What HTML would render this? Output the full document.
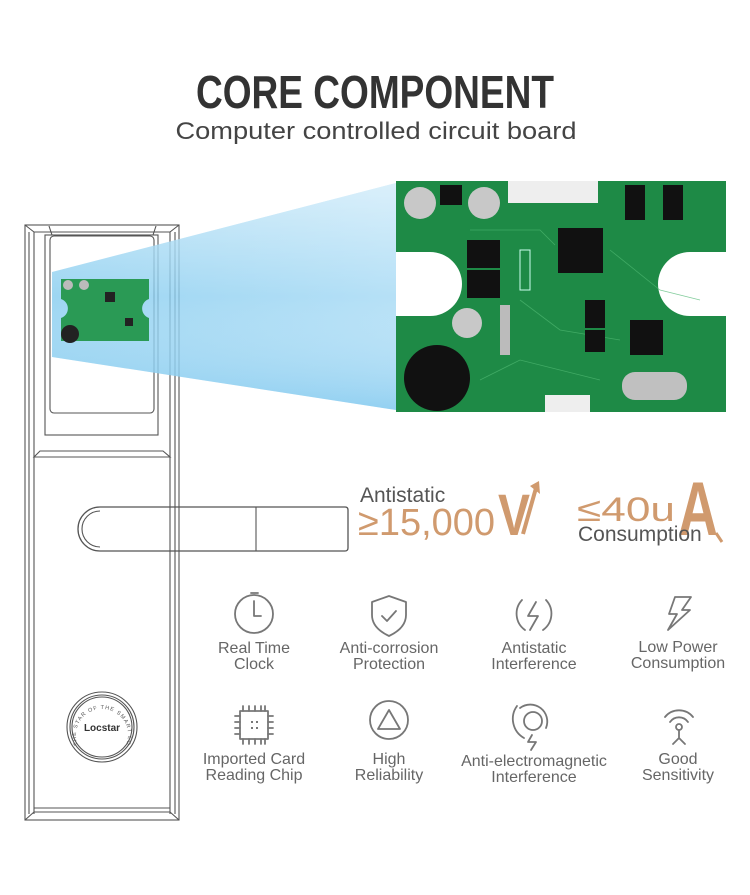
<!DOCTYPE html>
<html><head><meta charset="utf-8"><style>
html,body{margin:0;padding:0;background:#fff;}
svg{display:block;}
text{font-family:"Liberation Sans",sans-serif;}
</style></head><body>
<svg width="750" height="895" viewBox="0 0 750 895" xmlns="http://www.w3.org/2000/svg">
<defs>
<linearGradient id="beam" x1="0" y1="0" x2="1" y2="0">
<stop offset="0" stop-color="#7cc8ee" stop-opacity="0.75"/>
<stop offset="1" stop-color="#a9dbf5" stop-opacity="0.85"/>
</linearGradient>
<linearGradient id="beam2" x1="0" y1="0" x2="0" y2="1">
<stop offset="0" stop-color="#ffffff" stop-opacity="0.5"/>
<stop offset="0.5" stop-color="#ffffff" stop-opacity="0"/>
<stop offset="1" stop-color="#5fb9ea" stop-opacity="0.4"/>
</linearGradient>
</defs>

<text x="375" y="108" text-anchor="middle" font-size="46" font-weight="bold" fill="#333" textLength="358" lengthAdjust="spacingAndGlyphs">CORE COMPONENT</text>
<text x="376" y="139" text-anchor="middle" font-size="24" fill="#444" textLength="401" lengthAdjust="spacingAndGlyphs">Computer controlled circuit board</text>

<g fill="none" stroke="#555" stroke-width="1.1">
<rect x="25" y="225" width="154" height="595"/>
<line x1="29" y1="232" x2="29" y2="814"/>
<line x1="34" y1="232" x2="34" y2="814"/>
<line x1="175" y1="232" x2="175" y2="814"/>
<line x1="170" y1="232" x2="170" y2="814"/>
<path d="M25 225 L34 232 L170 232 L179 225"/>
<path d="M49 226 L52 235 L153 235 L156 226"/>
<rect x="45" y="235" width="113" height="200"/>
<rect x="50" y="236" width="104" height="177" rx="4"/>
<path d="M34 457 L40 451 L163 451 L170 457 Z"/>
<path d="M25 820 L34 812 L170 812 L179 820"/>
<line x1="34" y1="808" x2="170" y2="808"/>
<path d="M100 507 L345 507 Q348 507 348 510 L348 548 Q348 551 345 551 L100 551 A22 22 0 0 1 100 507 Z" stroke-width="1.3"/>
<path d="M100 511 A18 18 0 0 0 100 547" />
<line x1="256" y1="507" x2="256" y2="551"/>
<circle cx="102" cy="727" r="35"/>
<circle cx="102" cy="727" r="32"/>
<circle cx="102" cy="727" r="30"/>
</g>
<text x="102" y="731" text-anchor="middle" font-size="10" font-weight="bold" fill="#333">Locstar</text>
<path id="arc" d="M78 745 A26 26 0 1 1 126 745" fill="none"/>
<text font-size="5.5" fill="#555" letter-spacing="1"><textPath href="#arc">THE STAR OF THE SMART LOCK</textPath></text>

<polygon points="52,272 396,183 396,410 52,357" fill="url(#beam)"/>
<polygon points="52,272 396,183 396,410 52,357" fill="url(#beam2)"/>

<g>
<path d="M61 279 H149 V299 A10 10 0 0 0 149 318 V341 H61 V318 A10 10 0 0 0 61 299 Z" fill="#2a9a55"/>
<circle cx="70" cy="334" r="9" fill="#222"/>
<rect x="105" y="292" width="10" height="10" fill="#222"/>
<rect x="125" y="318" width="8" height="8" fill="#222"/>
<circle cx="68" cy="285" r="5" fill="#bbb"/><circle cx="84" cy="285" r="5" fill="#bbb"/>
</g>

<g>
<path d="M396 181 H726 V252 H690 A32 32 0 0 0 690 316 H726 V412 H396 V316 H430 A32 32 0 0 0 430 252 H396 Z" fill="#1e8a46"/>
<g stroke="#4fb872" stroke-width="0.8" fill="none" opacity="0.7">
<path d="M470 230 L540 230 L555 245"/><path d="M610 250 L660 290 L700 300"/><path d="M520 300 L560 330 L620 340"/><path d="M480 380 L520 360 L600 380"/>
</g>
<g fill="#111">
<rect x="558" y="228" width="45" height="45"/>
<rect x="467" y="240" width="33" height="28"/>
<rect x="467" y="270" width="33" height="28"/>
<rect x="630" y="320" width="33" height="35"/>
<rect x="585" y="300" width="20" height="28"/>
<rect x="585" y="330" width="20" height="22"/>
<rect x="625" y="185" width="20" height="35"/>
<rect x="663" y="185" width="20" height="35"/>
<rect x="440" y="185" width="22" height="20"/>
<circle cx="437" cy="378" r="33"/>
</g>
<circle cx="420" cy="203" r="16" fill="#c8c8c8"/>
<circle cx="484" cy="203" r="16" fill="#c8c8c8"/>
<circle cx="467" cy="323" r="15" fill="#c8c8c8"/>
<rect x="508" y="181" width="90" height="22" fill="#eee"/>
<rect x="545" y="395" width="45" height="17" fill="#eee"/>
<rect x="622" y="372" width="65" height="28" rx="13" fill="#c0c0c0"/>
<rect x="500" y="305" width="10" height="50" fill="#bbb"/>
<rect x="520" y="250" width="10" height="40" fill="none" stroke="#cfe" stroke-width="1"/>
</g>

<text x="360" y="502" font-size="21" fill="#555">Antistatic</text>
<text x="358" y="535" font-size="38" fill="#d09a6e" textLength="137" lengthAdjust="spacingAndGlyphs">≥15,000</text>
<text x="498" y="535" font-size="58" font-weight="bold" fill="#d09a6e" textLength="32" lengthAdjust="spacingAndGlyphs">V</text>
<path d="M523 534 L536 488" stroke="#d09a6e" stroke-width="4" fill="none"/>
<path d="M530 486 L539 481 L540 494 Z" fill="#d09a6e"/>
<text x="577" y="521" font-size="34" fill="#d09a6e" textLength="98" lengthAdjust="spacingAndGlyphs">≤40u</text>
<text x="678" y="535" font-size="76" font-weight="bold" fill="#d09a6e" textLength="40" lengthAdjust="spacingAndGlyphs">A</text>
<text x="578" y="541" font-size="21" fill="#555">Consumption</text>
<path d="M716 533 L722 542" stroke="#d09a6e" stroke-width="3" fill="none"/>

<g fill="none" stroke="#777" stroke-width="1.8" stroke-linecap="round" stroke-linejoin="round">
<circle cx="254" cy="614" r="19"/><path d="M254 601 V616 H261"/><line x1="251" y1="593" x2="258" y2="593"/>
<path d="M389 596 L406 602 V615 Q406 628 389 636 Q372 628 372 615 V602 Z"/><path d="M382 616 L387 621 L396 611"/>
<path d="M522 600 A20 20 0 0 0 525 630"/><path d="M546 600 A20 20 0 0 1 543 630"/><path d="M536 602 L528 616 L538 616 L530 630"/>
<path d="M675 597 L691 597 L682 610 L690 610 L668 630 L677 614 L669 614 Z"/>
<rect x="240" y="711" width="28" height="28"/><path d="M243 706v5M249 706v5M255 706v5M261 706v5M265 706v5M243 739v5M249 739v5M255 739v5M261 739v5M265 739v5M235 716h5M235 722h5M235 728h5M235 734h5M268 716h5M268 722h5M268 728h5M268 734h5"/>
<circle cx="389" cy="720" r="19"/><path d="M389 710 L378 729 L400 729 Z"/>
<path d="M517 706 A22 22 0 0 0 524 738"/><path d="M520 708 A17 17 0 0 1 546 728"/><circle cx="533" cy="721" r="9"/><path d="M532 735 L528 742 L536 742 L531 750"/>
<path d="M665 717 A18 18 0 0 1 693 717"/><path d="M670 722 A11 11 0 0 1 688 722"/><circle cx="679" cy="727" r="3"/><path d="M679 730 V738 M679 738 L673 744 M679 738 L685 744"/>
</g>
<g fill="#777"><rect x="251" y="721" width="2" height="2"/><rect x="256" y="721" width="2" height="2"/><rect x="251" y="727" width="2" height="2"/><rect x="256" y="727" width="2" height="2"/></g>

<g font-size="16" fill="#666" text-anchor="middle">
<text x="254" y="653">Real Time</text><text x="254" y="669">Clock</text>
<text x="389" y="653">Anti-corrosion</text><text x="389" y="669">Protection</text>
<text x="534" y="653">Antistatic</text><text x="534" y="669">Interference</text>
<text x="678" y="652">Low Power</text><text x="678" y="668">Consumption</text>
<text x="254" y="764">Imported Card</text><text x="254" y="780">Reading Chip</text>
<text x="389" y="764">High</text><text x="389" y="780">Reliability</text>
<text x="534" y="766">Anti-electromagnetic</text><text x="534" y="782">Interference</text>
<text x="678" y="764">Good</text><text x="678" y="780">Sensitivity</text>
</g>
</svg>
</body></html>
